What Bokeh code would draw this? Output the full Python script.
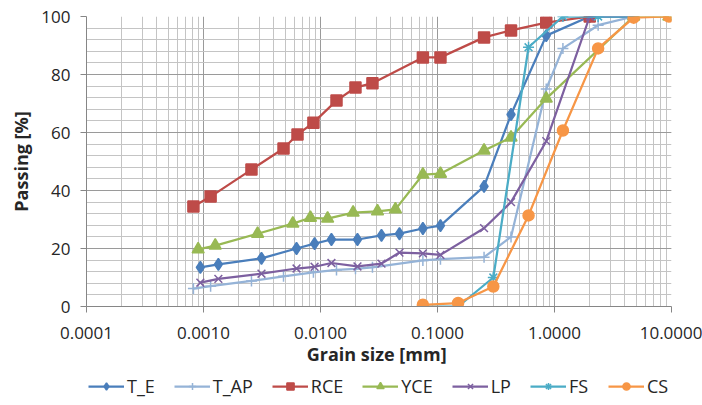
from bokeh.plotting import figure
from bokeh.layouts import column
from bokeh.models import FixedTicker, PrintfTickFormatter, Legend, LegendItem, Range1d
from bokeh.embed import file_html
from bokeh.resources import INLINE

# ---- data ----
te_x = [0.00094, 0.00134, 0.00313, 0.00624, 0.0089, 0.0124, 0.0207, 0.0332, 0.0473,
        0.075, 0.106, 0.25, 0.425, 0.85, 2.0, 4.75]
te_y = [13.5, 14.5, 16.6, 20.0, 21.7, 23.1, 23.1, 24.5, 25.1, 26.9, 27.9, 41.4, 66.2, 93.4, 100, 100]

tap_x = [0.00082, 0.00115, 0.00257, 0.00483, 0.0087, 0.0137, 0.0199, 0.0278,
         0.075, 0.106, 0.25, 0.425, 0.85, 1.18, 2.36, 4.75]
tap_y = [6.2, 7.0, 8.8, 10.4, 11.8, 12.6, 13.0, 13.5, 15.9, 16.3, 17.0, 24.0, 75.0, 89.0, 97.0, 100]

rce_x = [0.00082, 0.00115, 0.00257, 0.00483, 0.00636, 0.0087, 0.0137, 0.0199, 0.0278,
         0.075, 0.106, 0.25, 0.425, 0.85, 2.0]
rce_y = [34.5, 37.9, 47.2, 54.5, 59.3, 63.4, 71.0, 75.5, 77.0, 85.9, 85.9, 92.8, 95.2, 97.9, 100]

yce_x = [0.00090, 0.00126, 0.0029, 0.0058, 0.0082, 0.0115, 0.019, 0.0307, 0.0437,
         0.075, 0.106, 0.25, 0.425, 0.85, 4.75, 9.5]
yce_y = [19.7, 21.0, 25.1, 28.6, 30.6, 30.3, 32.4, 32.8, 33.5, 45.5, 45.8, 53.8, 58.3, 71.7, 100, 100]

lp_x = [0.00094, 0.00134, 0.00313, 0.00624, 0.0089, 0.0124, 0.0207, 0.0332, 0.0473,
        0.075, 0.106, 0.25, 0.425, 0.85, 2.0, 4.75]
lp_y = [8.2, 9.5, 11.3, 13.1, 13.7, 15.0, 13.8, 14.8, 18.6, 18.3, 17.8, 27.0, 36.0, 57.0, 100, 100]

fs_x = [0.075, 0.15, 0.3, 0.6, 1.18, 2.36, 4.75]
fs_y = [0.0, 0.0, 10.0, 89.4, 100, 100, 100]

cs_x = [0.075, 0.15, 0.3, 0.6, 1.18, 2.36, 4.75, 9.5]
cs_y = [0.6, 1.2, 6.9, 31.4, 60.7, 89.0, 99.6, 100]

series = [
    ("T_E", te_x, te_y, "#4A7EBB", "diamond", 12),
    ("T_AP", tap_x, tap_y, "#95B3D7", "cross", 11),
    ("RCE", rce_x, rce_y, "#BE4B48", "square", 11),
    ("YCE", yce_x, yce_y, "#98B954", "triangle", 12),
    ("LP", lp_x, lp_y, "#7D60A0", "x", 11),
    ("FS", fs_x, fs_y, "#4BACC6", "asterisk", 11),
    ("CS", cs_x, cs_y, "#F79646", "circle", 11),
]

x_major = [1e-4, 1e-3, 1e-2, 1e-1, 1, 10]
x_minor = [m * d for d in [1e-4, 1e-3, 1e-2, 1e-1, 1] for m in range(2, 10)]
y_major = [0, 20, 40, 60, 80, 100]
y_minor = [v for v in range(0, 101, 4)]

FONT = "Open Sans"
TXT = "#262626"

p = figure(width=702, height=372, x_axis_type="log",
           x_range=(1e-4, 10), y_range=(0, 100),
           output_backend="svg", toolbar_location=None,
           min_border_left=86, min_border_right=31, min_border_top=16, min_border_bottom=66)
p.outline_line_color = None
p.background_fill_color = "white"

p.xaxis.ticker = FixedTicker(ticks=x_major, minor_ticks=x_minor)
p.yaxis.ticker = FixedTicker(ticks=y_major, minor_ticks=y_minor)
p.xaxis.formatter = PrintfTickFormatter(format="%.4f")

for ax in (p.xaxis, p.yaxis):
    ax.axis_line_color = "#868686"
    ax.major_tick_line_color = "#868686"
    ax.major_tick_in = 0
    ax.major_tick_out = 6
    ax.minor_tick_line_color = None
    ax.major_label_text_font = FONT
    ax.major_label_text_font_size = "17px"
    ax.major_label_text_color = TXT
    ax.axis_label_text_font = FONT
    ax.axis_label_text_font_style = "bold"
    ax.axis_label_text_font_size = "18px"
    ax.axis_label_text_color = TXT

p.xaxis.axis_label = "Grain size  [mm]"
p.yaxis.axis_label = "Passing [%]"
p.xaxis.major_label_standoff = 14
p.xaxis.axis_label_standoff = 0
p.yaxis.major_label_standoff = 10
p.yaxis.axis_label_standoff = 5

for g in (p.xgrid, p.ygrid):
    g.grid_line_color = "#9a9a9a"
    g.grid_line_width = 1
    g.minor_grid_line_color = "#c4c4c4"
    g.minor_grid_line_width = 1

for name, xs, ys, col, mk, sz in series:
    p.line(xs, ys, line_color=col, line_width=2.25)
    p.scatter(xs, ys, marker=mk, size=sz, fill_color=col, line_color=col, line_width=1.5)

# legend strip below the chart (its own renderers stay outside its visible y range)
lg = figure(width=702, height=26, x_axis_type="log", x_range=(1e-4, 10),
            y_range=Range1d(-30, -20),
            x_axis_location=None, y_axis_location=None,
            output_backend="svg", toolbar_location=None,
            min_border_left=86, min_border_right=31, min_border_top=0, min_border_bottom=0)
lg.grid.visible = False
lg.outline_line_color = None
items = []
for name, xs, ys, col, mk, sz in series:
    lr = lg.line(xs, ys, line_color=col, line_width=2.25)
    sr = lg.scatter(xs, ys, marker=mk, size=sz, fill_color=col, line_color=col, line_width=1.5)
    items.append(LegendItem(label=name, renderers=[lr, sr]))

legend = Legend(items=items, orientation="horizontal", location=(2, 0),
                label_text_font=FONT, label_text_font_size="18px", label_text_color=TXT,
                glyph_width=36, glyph_height=18, label_standoff=3, spacing=19,
                padding=0, margin=0, border_line_color=None, background_fill_alpha=0)
lg.add_layout(legend, "center")

layout = column(p, lg, spacing=0)
open("out.html", "w").write(file_html(layout, INLINE))
